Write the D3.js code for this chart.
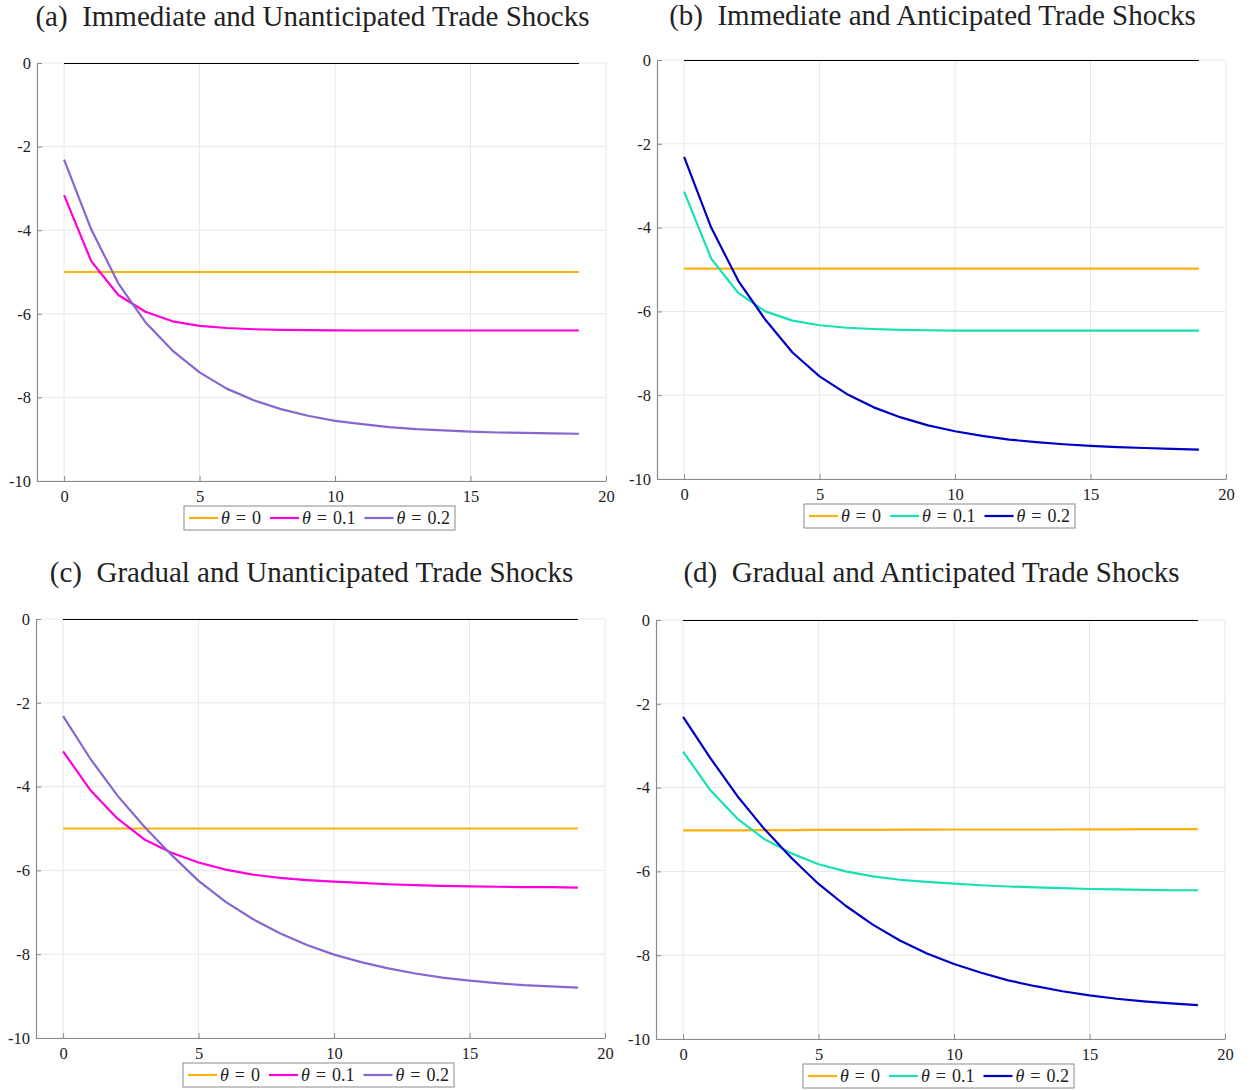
<!DOCTYPE html>
<html>
<head>
<meta charset="utf-8">
<script src="https://cdn.jsdelivr.net/npm/d3@7"></script>
<style>
  html, body { margin: 0; padding: 0; background: #fff; }
  svg { display: block; }
  text { font-family: "Liberation Serif", "Times New Roman", serif; fill: #222; }
</style>
</head>
<body>
<svg id="fig" width="1252" height="1090"></svg>
<script>
// Periods after the shock
const periods = [0,1,2,3,4,5,6,7,8,9,10,11,12,13,14,15,16,17,18,19];
const xTicks = [0, 5, 10, 15, 20];
const yTicks = [0, -2, -4, -6, -8, -10];

// Steady-state reference (zero deviation)
const zeroLine = [0,0,0,0,0,0,0,0,0,0,0,0,0,0,0,0,0,0,0,0];

// (a) Immediate and unanticipated
const aTheta0  = [-5,-5,-5,-5,-5,-5,-5,-5,-5,-5,-5,-5,-5,-5,-5,-5,-5,-5,-5,-5];
const aTheta01 = [-3.16,-4.74,-5.55,-5.95,-6.18,-6.29,-6.34,-6.37,-6.385,-6.39,-6.395,-6.40,-6.40,-6.40,-6.40,-6.40,-6.40,-6.40,-6.40,-6.40];
const aTheta02 = [-2.31,-3.98,-5.27,-6.20,-6.88,-7.40,-7.79,-8.07,-8.28,-8.44,-8.56,-8.64,-8.71,-8.76,-8.79,-8.82,-8.84,-8.85,-8.86,-8.87];

// (b) Immediate and anticipated
const bTheta0  = [-4.98,-4.98,-4.98,-4.98,-4.98,-4.98,-4.98,-4.98,-4.98,-4.98,-4.98,-4.98,-4.98,-4.98,-4.98,-4.98,-4.98,-4.98,-4.98,-4.98];
const bTheta01 = [-3.14,-4.74,-5.56,-6.00,-6.22,-6.33,-6.39,-6.42,-6.44,-6.45,-6.46,-6.46,-6.46,-6.46,-6.46,-6.46,-6.46,-6.46,-6.46,-6.46];
const bTheta02 = [-2.31,-4.00,-5.27,-6.20,-6.98,-7.55,-7.97,-8.29,-8.53,-8.72,-8.86,-8.97,-9.06,-9.12,-9.17,-9.21,-9.24,-9.26,-9.28,-9.30];

// (c) Gradual and unanticipated
const cTheta0  = [-5,-5,-5,-5,-5,-5,-5,-5,-5,-5,-5,-5,-5,-5,-5,-5,-5,-5,-5,-5];
const cTheta01 = [-3.16,-4.08,-4.76,-5.26,-5.58,-5.81,-5.98,-6.10,-6.18,-6.23,-6.27,-6.30,-6.33,-6.35,-6.37,-6.38,-6.39,-6.40,-6.40,-6.41];
const cTheta02 = [-2.32,-3.33,-4.21,-4.96,-5.63,-6.25,-6.75,-7.16,-7.50,-7.78,-8.01,-8.19,-8.34,-8.46,-8.56,-8.63,-8.69,-8.74,-8.77,-8.80];

// (d) Gradual and anticipated
const dTheta0  = [-5.02,-5.02,-5.02,-5.015,-5.015,-5.01,-5.01,-5.01,-5.005,-5.005,-5.0,-5.0,-5.0,-5.0,-5.0,-4.995,-4.995,-4.99,-4.99,-4.99];
const dTheta01 = [-3.14,-4.06,-4.74,-5.23,-5.57,-5.83,-6.00,-6.12,-6.20,-6.25,-6.29,-6.33,-6.36,-6.38,-6.40,-6.42,-6.43,-6.44,-6.45,-6.45];
const dTheta02 = [-2.31,-3.29,-4.20,-4.99,-5.68,-6.30,-6.82,-7.27,-7.65,-7.96,-8.21,-8.42,-8.60,-8.74,-8.86,-8.96,-9.04,-9.10,-9.15,-9.19];

const legendLabels = ["0", "0.1", "0.2"];
const titles = [
  "(a)\u00A0\u00A0Immediate and Unanticipated Trade Shocks",
  "(b)\u00A0\u00A0Immediate and Anticipated Trade Shocks",
  "(c)\u00A0\u00A0Gradual and Unanticipated Trade Shocks",
  "(d)\u00A0\u00A0Gradual and Anticipated Trade Shocks"
];

const ORANGE = "#fdb10f", MAGENTA = "#ff00dc", PURPLE = "#8766cf", TEAL = "#18e0b4", BLUE = "#0000c4";

const panels = [
  { title: titles[0], box: {l: 37,  r: 606,  t: 63,  b: 481},  titleY: 26,  series: [aTheta0, aTheta01, aTheta02], colors: [ORANGE, MAGENTA, PURPLE] },
  { title: titles[1], box: {l: 657, r: 1226, t: 60,  b: 479},  titleY: 25,  series: [bTheta0, bTheta01, bTheta02], colors: [ORANGE, TEAL, BLUE] },
  { title: titles[2], box: {l: 36,  r: 605,  t: 619, b: 1038}, titleY: 582, series: [cTheta0, cTheta01, cTheta02], colors: [ORANGE, MAGENTA, PURPLE] },
  { title: titles[3], box: {l: 656, r: 1225, t: 620, b: 1039}, titleY: 582, series: [dTheta0, dTheta01, dTheta02], colors: [ORANGE, TEAL, BLUE] }
];

const svg = d3.select("#fig");

function drawPanel(p) {
  const {l, r, t, b} = p.box;
  const x = d3.scaleLinear().domain([-1, 20]).range([l, r]);
  const y = d3.scaleLinear().domain([-10, 0]).range([b, t]);
  const g = svg.append("g");

  // grid
  g.append("g").selectAll("line").data(xTicks).join("line")
    .attr("x1", d => x(d)).attr("x2", d => x(d)).attr("y1", t).attr("y2", b)
    .attr("stroke", "#e8e8e8").attr("stroke-width", 1);
  g.append("g").selectAll("line").data(yTicks).join("line")
    .attr("x1", l).attr("x2", r).attr("y1", d => y(d)).attr("y2", d => y(d))
    .attr("stroke", "#e8e8e8").attr("stroke-width", 1);

  // axes
  const fmt = d => String(d);
  const xAxis = g.append("g").attr("transform", `translate(0,${b})`)
    .call(d3.axisBottom(x).tickValues(xTicks).tickFormat(fmt).tickSizeInner(-5).tickSizeOuter(0).tickPadding(9));
  const yAxis = g.append("g").attr("transform", `translate(${l},0)`)
    .call(d3.axisLeft(y).tickValues(yTicks).tickFormat(fmt).tickSizeInner(-5).tickSizeOuter(0).tickPadding(6));
  [xAxis, yAxis].forEach(a => {
    a.select(".domain").attr("stroke", "#8a8a8a").attr("stroke-width", 1.2);
    a.selectAll(".tick line").attr("stroke", "#8a8a8a");
    a.selectAll(".tick text").attr("fill", "#333").style("font-family", "'Liberation Serif', serif").style("font-size", "16.5px");
  });

  const line = d3.line().x((d, i) => x(periods[i])).y(d => y(d));

  // zero reference
  g.append("path").datum(zeroLine).attr("d", line)
    .attr("fill", "none").attr("stroke", "#000").attr("stroke-width", 1)
    .attr("shape-rendering", "crispEdges");

  p.series.forEach((s, k) => {
    g.append("path").datum(s).attr("d", line)
      .attr("fill", "none").attr("stroke", p.colors[k]).attr("stroke-width", 2.2)
      .attr("stroke-linejoin", "round");
  });

  // title
  g.append("text").attr("x", (l + r) / 2 - 9).attr("y", p.titleY)
    .attr("text-anchor", "middle").style("font-size", "29px").attr("fill", "#111")
    .text(p.title);

  // legend
  const lg = g.append("g");
  let cx = 5;
  legendLabels.forEach((lab, k) => {
    const it = lg.append("g");
    it.append("line").attr("x1", cx).attr("x2", cx + 29).attr("y1", 0).attr("y2", 0)
      .attr("stroke", p.colors[k]).attr("stroke-width", 2.2);
    const tx = it.append("text").attr("x", cx + 32).attr("y", 6).style("font-size", "18px").attr("fill", "#111");
    tx.append("tspan").style("font-style", "italic").text("θ");
    tx.append("tspan").attr("dx", 6).text("=");
    tx.append("tspan").attr("dx", 6).text(lab);
    cx += 32 + tx.node().getBBox().width + 9;
  });
  const w = cx - 4, h = 24;
  const lx = (l + r) / 2 - 2 - w / 2, ly = b + 25;
  lg.insert("rect", ":first-child").attr("x", 0).attr("y", -h / 2).attr("width", w).attr("height", h)
    .attr("fill", "#fff").attr("stroke", "#8a8a8a").attr("stroke-width", 1);
  lg.attr("transform", `translate(${lx},${ly + h / 2})`);
}

panels.forEach(drawPanel);
</script>
</body>
</html>
